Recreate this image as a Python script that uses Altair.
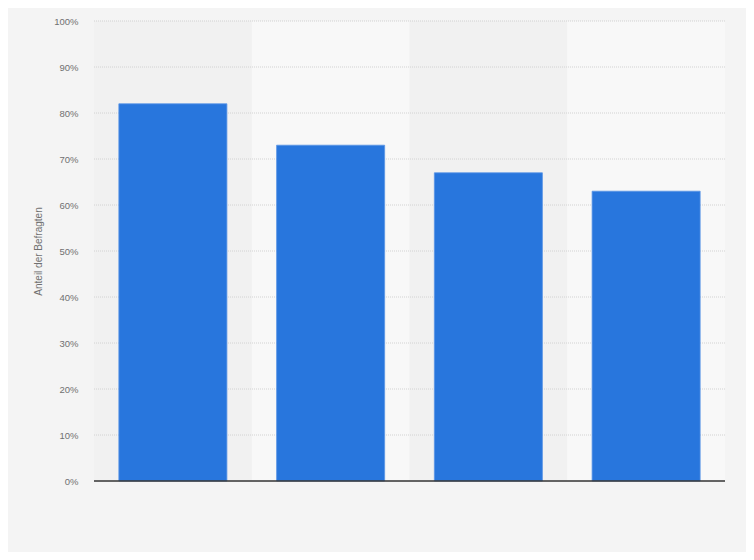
import altair as alt
import pandas as pd

categories = ["A", "B", "C", "D"]
values = [82, 73, 67, 63]
band_colors = ["#f1f1f1", "#f8f8f8", "#f1f1f1", "#f8f8f8"]
tick_values = [0, 10, 20, 30, 40, 50, 60, 70, 80, 90, 100]

df = pd.DataFrame({"cat": categories, "val": values, "band": band_colors})
grid_df = pd.DataFrame({"val": tick_values[1:]})
base_df = pd.DataFrame({"val": [0]})

yscale = alt.Scale(domain=[0, 100])
yaxis = alt.Axis(
    values=tick_values,
    labelExpr="datum.value + '%'",
    title="Anteil der Befragten",
    titleFont="Arial, Liberation Sans", titleFontSize=10,
    titleFontWeight="normal", titleColor="#707070",
    titlePadding=10,
    labelFont="Arial, Liberation Sans", labelFontSize=9.5,
    labelColor="#707070", labelPadding=16,
    domain=False, ticks=False, grid=False,
)
y = alt.Y("val:Q", scale=yscale, axis=yaxis)
x = alt.X("cat:N", sort=categories, axis=None,
          scale=alt.Scale(paddingInner=0, paddingOuter=0))

bands = alt.Chart(df).mark_rect().encode(
    x=x,
    y=alt.value(0),
    y2=alt.value(460),
    color=alt.Color("band:N", scale=None),
)

grid = alt.Chart(grid_df).mark_rule(
    color="#d2d2d2", strokeDash=[1, 1], strokeWidth=1
).encode(y=y, x=alt.value(0), x2=alt.value(631))

bars = alt.Chart(df).mark_bar(
    width=alt.RelativeBandSize(0.685), color="#2876dd",
    stroke="#5a96e6", strokeWidth=0.8
).encode(x=x, y=y)

baseline = alt.Chart(base_df).mark_rule(
    color="#333333", strokeWidth=1.5
).encode(y=y, x=alt.value(0), x2=alt.value(631))

chart = alt.layer(bands, grid, bars, baseline).properties(
    width=631, height=460,
    background="#f4f4f4",
    padding={"left": 86, "top": 13, "right": 21, "bottom": 71},
    autosize=alt.AutoSizeParams(type="none"),
).configure_view(stroke=None, fill="#f4f4f4")

chart.save("out.html", embed_options={"renderer": "svg", "actions": False})
